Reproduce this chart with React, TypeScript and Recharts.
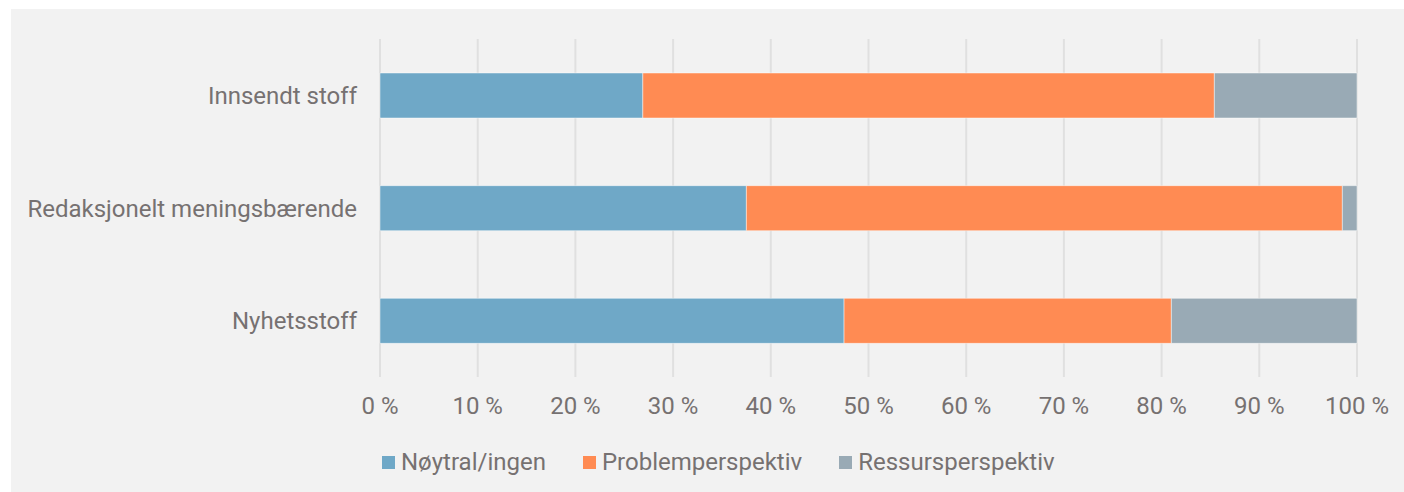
import { Bar, BarChart, CartesianGrid, XAxis, YAxis } from "recharts";

const categories = ["Innsendt stoff", "Redaksjonelt meningsbærende", "Nyhetsstoff"];
const noytral = [26.9, 37.5, 47.5];
const problem = [58.5, 61.0, 33.5];
const ressurs = [14.6, 1.5, 19.0];
const xTicks = [0, 10, 20, 30, 40, 50, 60, 70, 80, 90, 100];

const series = [
  { key: "noytral", name: "Nøytral/ingen", color: "#6fa8c7" },
  { key: "problem", name: "Problemperspektiv", color: "#ff8b53" },
  { key: "ressurs", name: "Ressursperspektiv", color: "#99aab5" },
];

const data = categories.map((name, i) => ({
  name,
  noytral: noytral[i],
  problem: problem[i],
  ressurs: ressurs[i],
}));

const textColor = "#767171";
const font = "Roboto, sans-serif";

export default function App() {
  return (
    <div
      style={{
        position: "absolute",
        left: 11,
        top: 9,
        width: 1393,
        height: 483,
        background: "#f2f2f2",
        fontFamily: font,
      }}
    >
      <BarChart
        width={1393}
        height={483}
        data={data}
        layout="vertical"
        margin={{ left: 0, right: 47, top: 30, bottom: 75 }}
      >
        <CartesianGrid horizontal={false} stroke="#e0e0e0" strokeWidth={2} />
        <XAxis
          type="number"
          domain={[0, 100]}
          ticks={xTicks}
          tickFormatter={(v) => `${v} %`}
          axisLine={false}
          tickLine={false}
          tickSize={0}
          tickMargin={20}
          height={40}
          interval={0}
          tick={{ fill: textColor, fontSize: 24, fontFamily: font }}
        />
        <YAxis
          type="category"
          dataKey="name"
          width={369}
          axisLine={false}
          tickLine={false}
          tickSize={0}
          tickMargin={23}
          tick={{ fill: textColor, fontSize: 24, fontFamily: font }}
        />
        {series.map((s) => (
          <Bar
            key={s.key}
            dataKey={s.key}
            name={s.name}
            stackId="a"
            fill={s.color}
            stroke="rgba(255,255,255,0.45)"
            strokeWidth={1}
            barSize={45}
            isAnimationActive={false}
          />
        ))}
      </BarChart>
      <div
        style={{
          position: "absolute",
          left: 371,
          top: 439,
          display: "flex",
          alignItems: "center",
          gap: 37,
          color: textColor,
          fontSize: 24,
          lineHeight: "28px",
        }}
      >
        {series.map((s) => (
          <div key={s.key} style={{ display: "flex", alignItems: "center", gap: 6 }}>
            <span style={{ width: 13, height: 13, background: s.color, display: "inline-block" }} />
            <span>{s.name}</span>
          </div>
        ))}
      </div>
    </div>
  );
}
